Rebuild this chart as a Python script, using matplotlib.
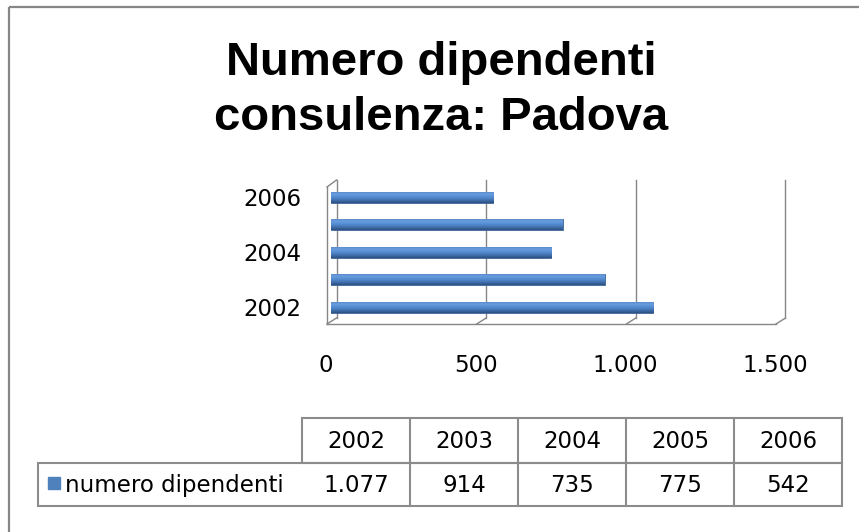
import matplotlib
matplotlib.use("Agg")
import matplotlib.pyplot as plt
import numpy as np
from matplotlib import transforms as mtrans
from matplotlib.patches import Rectangle
from matplotlib.colors import LinearSegmentedColormap

# ---------------- data ----------------
years = ["2002", "2003", "2004", "2005", "2006"]
values = [1077, 914, 735, 775, 542]
series_name = "numero dipendenti"
title_lines = ["Numero dipendenti", "consulenza: Padova"]
xticks = [0, 500, 1000, 1500]
ytick_pos = [0, 2, 4]
ytick_labels = ["2002", "2004", "2006"]


def it_fmt(v):
    return f"{v:,}".replace(",", ".")


W, H = 859, 532
fig = plt.figure(figsize=(W / 100, H / 100), dpi=100)
fig.patch.set_facecolor("white")

FONT = "DejaVu Sans"
FS = 16.5
GRID = "#868686"
TBL = "#8C8C8C"
BLUE = "#4F81BD"


def fr(x0, y0, x1, y1):
    return [x0 / W, 1 - y1 / H, (x1 - x0) / W, (y1 - y0) / H]


# overlay axes in pixel coordinates
ov = fig.add_axes([0, 0, 1, 1])
ov.set_xlim(0, W)
ov.set_ylim(H, 0)
ov.axis("off")

# outer chart border (runs off the right/bottom edge)
ov.add_patch(Rectangle((9, 7), W + 20, H + 20, fill=False, ec="#878787", lw=1.6))

# title
for i, line in enumerate(title_lines):
    fig.text(441 / W, 1 - (75 + 55 * i) / H, line, ha="center", va="baseline",
             fontsize=34, fontweight="bold", family="Liberation Sans", color="black")

# ---------------- main bar axes ----------------
ax = fig.add_axes(fr(331, 180, 780, 318))
ax.set_facecolor("none")
pos = np.arange(len(years))
XL = (0, 1500)
YL = (-0.40, 4.62)
ax.set_xlim(*XL)
ax.set_ylim(*YL)
for s in ax.spines.values():
    s.set_visible(False)

bt = mtrans.blended_transform_factory(ax.transData, ax.transAxes)


def px(v, yax):
    d = bt.transform((v, yax))
    return d[0], H - d[1]


BACK_DX = 5.5
FRONT_DX = -4
FRONT_DY = 6
for v in xticks:
    x0, ytop = px(v, 1)
    _, ybot = px(v, 0)
    if v == xticks[0]:
        # left side wall
        ov.plot([x0 + BACK_DX, x0 + BACK_DX], [ytop, ybot], color=GRID, lw=1.0)
        ov.plot([x0 + FRONT_DX, x0 + FRONT_DX], [ytop + 7, ybot + FRONT_DY], color=GRID, lw=1.0)
        ov.plot([x0 + FRONT_DX, x0 + BACK_DX], [ytop + 7, ytop], color=GRID, lw=1.0)
        ov.plot([x0 + FRONT_DX, x0 + BACK_DX], [ybot + FRONT_DY, ybot], color=GRID, lw=1.0)
    else:
        ov.plot([x0 + BACK_DX, x0 + BACK_DX], [ytop, ybot], color=GRID, lw=1.0)
        ov.plot([x0 + BACK_DX, x0 + FRONT_DX], [ybot, ybot + FRONT_DY], color=GRID, lw=1.0)
# front floor edge
xa, yb = px(xticks[0], 0)
xb, _ = px(xticks[-1], 0)
ov.plot([xa + FRONT_DX, xb + FRONT_DX], [yb + FRONT_DY, yb + FRONT_DY], color=GRID, lw=1.0)

# bars with gradient
bars = ax.barh(pos, values, height=0.40, color=BLUE, edgecolor="#3A6396", linewidth=0.6, zorder=3)
cmap = LinearSegmentedColormap.from_list(
    "barg", ["#2C4F7E", "#3C69A3", "#4C7FC2", "#5890D4", "#6A9EDE", "#5A8CCB"])
grad = np.linspace(0, 1, 64).reshape(-1, 1)
for p in bars:
    x, y = p.get_x(), p.get_y()
    w, h = p.get_width(), p.get_height()
    im = ax.imshow(grad, extent=[x, x + w, y, y + h], origin="lower", aspect="auto",
                   cmap=cmap, zorder=4, interpolation="bilinear")
    im.set_clip_path(p)
ax.set_xlim(*XL)
ax.set_ylim(*YL)

ax.set_xticks(xticks)
ax.set_xticklabels([it_fmt(v) for v in xticks], fontsize=FS, family=FONT, color="black")
ax.set_yticks(ytick_pos)
ax.set_yticklabels(ytick_labels, fontsize=FS, family=FONT, color="black")
ax.tick_params(axis="x", length=0, pad=26)
ax.tick_params(axis="y", length=0, pad=21)
shift = mtrans.ScaledTranslation(-5 / 100, 0, fig.dpi_scale_trans)
for lab in ax.get_xticklabels():
    lab.set_transform(lab.get_transform() + shift)

# ---------------- data table ----------------
t_left, t_right = 302, 842
lab_left = 38
r0, r1, r2 = 418, 463, 506
ncol = len(years)
cw = (t_right - t_left) / ncol
ov.add_patch(Rectangle((t_left, r0), t_right - t_left, r1 - r0, fill=False, ec=TBL, lw=1.5))
ov.add_patch(Rectangle((lab_left, r1), t_right - lab_left, r2 - r1, fill=False, ec=TBL, lw=1.5))
for i in range(1, ncol):
    xx = t_left + i * cw
    ov.plot([xx, xx], [r0, r2], color=TBL, lw=1.5)
for i, (yr, v) in enumerate(zip(years, values)):
    cx = t_left + (i + 0.5) * cw
    ov.text(cx, (r0 + r1) / 2 + 1, yr, ha="center", va="center", fontsize=FS, family=FONT)
    ov.text(cx, (r1 + r2) / 2 + 1, it_fmt(v), ha="center", va="center", fontsize=FS, family=FONT)
ov.add_patch(Rectangle((48, 477), 12, 12, color=BLUE))
ov.text(65, (r1 + r2) / 2 + 1, series_name, ha="left", va="center", fontsize=FS, family=FONT)

fig.savefig("out.png", dpi=100)
